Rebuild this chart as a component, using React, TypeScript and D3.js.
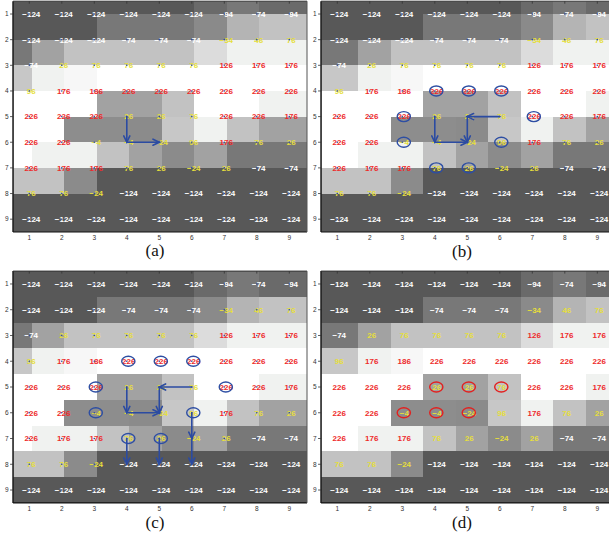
import React from "react";
import * as d3 from "d3";

const rowIds = [1, 2, 3, 4, 5, 6, 7, 8, 9];
const colIds = [1, 2, 3, 4, 5, 6, 7, 8, 9];
const tickLabels = ["1", "2", "3", "4", "5", "6", "7", "8", "9"];

const gridValues: number[][] = [
  [-124, -124, -124, -124, -124, -124, -94, -74, -94],
  [-124, -124, -124, -74, -74, -74, -34, 46, 76],
  [-74, 26, 76, 76, 76, 76, 126, 176, 176],
  [96, 176, 186, 226, 226, 226, 226, 226, 226],
  [226, 226, 226, 26, 26, 76, 226, 226, 176],
  [226, 226, -4, -4, -24, 96, 176, 76, 26],
  [226, 176, 176, 76, 26, -24, 26, -74, -74],
  [76, 76, -24, -124, -124, -124, -124, -124, -124],
  [-124, -124, -124, -124, -124, -124, -124, -124, -124],
];

// arrows: [rowFrom, colFrom, rowTo, colTo]
const arrowsA = [
  [5, 4, 6, 4],
  [6, 4, 6, 5],
];
const arrowsB = [
  [5, 6, 5, 5],
  [5, 4, 6, 4],
  [5, 5, 6, 5],
  [6, 4, 6, 5],
];
const arrowsC = [
  [5, 6, 5, 5],
  [5, 4, 6, 4],
  [5, 5, 6, 5],
  [6, 4, 6, 5],
  [6, 6, 7, 6],
  [7, 6, 8, 6],
  [7, 4, 8, 4],
  [7, 5, 8, 5],
];
const arrowsD: number[][] = [];

// circled cells: [row, col]
const circlesBlue = [
  [4, 4], [4, 5], [4, 6], [5, 3], [5, 7], [6, 3], [6, 6], [7, 4], [7, 5],
];
const circlesRed = [
  [5, 4], [5, 5], [5, 6], [6, 3], [6, 4], [6, 5],
];

const grayDomain = [-124, -94, -74, -34, -24, -4, 26, 46, 76, 96, 126, 176, 186, 226];
const grayLevels = [88, 106, 120, 138, 139, 141, 162, 180, 194, 199, 220, 241, 247, 255];

const grayScale = d3.scaleLinear<number>().domain(grayDomain).range(grayLevels).clamp(true);
const cellColor = (v: number) => {
  const g = Math.round(grayScale(v));
  return v === 176 ? `rgb(${g - 1},${g + 1},${g - 1})` : `rgb(${g},${g},${g})`;
};
const textColor = (v: number) => (v <= -74 ? "#ffffff" : v >= 126 ? "#ee2b2b" : "#e6df3c");
const fmt = (v: number) => (v < 0 ? "\u2212" + Math.abs(v) : String(v));

type PanelCfg = {
  id: string;
  left: number;
  top: number;
  bottom: number;
  right: number;
  dx: number;
  dy: number;
  label: string;
  labelX: number;
  labelY: number;
  arrows: number[][];
  circles: number[][];
  circleColor: string;
  dots: boolean;
  rightLine: boolean;
};

const panels: PanelCfg[] = [
  { id: "a", left: 13.05, top: 1.2, bottom: 232, right: 307, dx: -0.42, dy: -0.5, label: "(a)", labelX: 155, labelY: 256, arrows: arrowsA, circles: [], circleColor: "#2d4ea3", dots: true, rightLine: true },
  { id: "b", left: 321.05, top: 1.2, bottom: 232, right: 620, dx: 0.15, dy: -0.5, label: "(b)", labelX: 462, labelY: 257, arrows: arrowsB, circles: circlesBlue, circleColor: "#2d4ea3", dots: true, rightLine: false },
  { id: "c", left: 13.05, top: 271.1, bottom: 502.9, right: 307, dx: -0.42, dy: 0, label: "(c)", labelX: 155, labelY: 528, arrows: arrowsC, circles: circlesBlue, circleColor: "#2d4ea3", dots: true, rightLine: true },
  { id: "d", left: 321.05, top: 271.1, bottom: 502.9, right: 620, dx: 0.15, dy: 0, label: "(d)", labelX: 462, labelY: 528, arrows: arrowsD, circles: circlesRed, circleColor: "#e3201f", dots: false, rightLine: false },
];

const COL_STEP = 32.5;

function Panel({ cfg }: { cfg: PanelCfg }) {
  const xs = d3.scaleLinear().domain([0.5, 9.5]).range([cfg.left, cfg.left + 9 * COL_STEP]);
  const ys = d3.scaleLinear().domain([0.5, 9.5]).range([cfg.top, cfg.bottom]);
  const clipId = `clip-${cfg.id}`;
  const blue = "#2b4ba2";

  const cells: React.ReactNode[] = [];
  rowIds.forEach((r, ri) => {
    colIds.forEach((c, ci) => {
      let x0 = Math.round(xs(c + cfg.dx - 0.5));
      let x1 = Math.round(xs(c + cfg.dx + 0.5));
      let y0 = Math.round(ys(r + cfg.dy - 0.5));
      let y1 = Math.round(ys(r + cfg.dy + 0.5));
      if (ci === 0) x0 = Math.min(x0, Math.floor(cfg.left));
      if (ci === colIds.length - 1) x1 = Math.max(x1, Math.ceil(cfg.right + 5));
      if (ri === 0) y0 = Math.min(y0, Math.floor(cfg.top));
      if (ri === rowIds.length - 1) y1 = Math.max(y1, Math.ceil(cfg.bottom));
      cells.push(
        <rect key={`c${r}-${c}`} x={x0} y={y0} width={x1 - x0} height={y1 - y0} fill={cellColor(gridValues[ri][ci])} shapeRendering="crispEdges" />
      );
    });
  });

  const arrowEls = cfg.arrows.map(([r1, c1, r2, c2], i) => {
    const x1 = xs(c1), y1 = ys(r1), x2 = xs(c2), y2 = ys(r2);
    const ang = Math.atan2(y2 - y1, x2 - x1);
    const L = 7, a = 0.45;
    const hx1 = x2 - L * Math.cos(ang - a), hy1 = y2 - L * Math.sin(ang - a);
    const hx2 = x2 - L * Math.cos(ang + a), hy2 = y2 - L * Math.sin(ang + a);
    return (
      <g key={`a${i}`} stroke={blue} strokeWidth={1.6} fill="none" strokeLinecap="round">
        <line x1={x1} y1={y1} x2={x2} y2={y2} />
        <polyline points={`${hx1},${hy1} ${x2},${y2} ${hx2},${hy2}`} />
      </g>
    );
  });

  return (
    <g>
      <defs>
        <clipPath id={clipId}>
          <rect x={cfg.left} y={cfg.top} width={cfg.right - cfg.left} height={cfg.bottom - cfg.top} />
        </clipPath>
      </defs>
      <g clipPath={`url(#${clipId})`}>
        {cells}
        {rowIds.map((r, ri) =>
          colIds.map((c, ci) => {
            const v = gridValues[ri][ci];
            return (
              <text key={`t${r}-${c}`} x={xs(c) + 2} y={ys(r)} dy="0.36em" textAnchor="middle"
                fontFamily="'Liberation Sans', Arial, sans-serif" fontWeight="bold" fontSize={8} fill={textColor(v)}>
                {fmt(v)}
              </text>
            );
          })
        )}
        {cfg.dots &&
          rowIds.map((r) => colIds.map((c) => <circle key={`d${r}-${c}`} cx={xs(c)} cy={ys(r)} r={0.8} fill={blue} />))}
        {cfg.circles.map(([r, c], i) => (
          <ellipse key={`e${i}`} cx={xs(c) + 1.5} cy={ys(r)} rx={6.6} ry={5} fill="none" stroke={cfg.circleColor} strokeWidth={1.4} />
        ))}
        {arrowEls}
      </g>
      {/* axes */}
      <line x1={cfg.left} x2={cfg.left} y1={cfg.top} y2={cfg.bottom} stroke="#222" strokeWidth={1.6} />
      <line x1={cfg.left} x2={cfg.right} y1={cfg.bottom} y2={cfg.bottom} stroke="#111" strokeWidth={1.2} />
      <line x1={cfg.left} x2={cfg.right} y1={cfg.top} y2={cfg.top} stroke="#333" strokeWidth={1} />
      {cfg.rightLine && <line x1={cfg.right} x2={cfg.right} y1={cfg.top} y2={cfg.bottom} stroke="#555" strokeWidth={1} />}
      {rowIds.map((r, i) => (
        <g key={`yt${r}`}>
          <line x1={cfg.left - 3} x2={cfg.left} y1={ys(r)} y2={ys(r)} stroke="#333" strokeWidth={0.8} />
          <text x={cfg.left - 4.5} y={ys(r)} dy="0.35em" textAnchor="end" fontFamily="'Liberation Sans', Arial, sans-serif" fontSize={6.5} fill="#333">
            {tickLabels[i]}
          </text>
        </g>
      ))}
      {colIds.map((c, i) => (
        <g key={`xt${c}`}>
          <line x1={xs(c)} x2={xs(c)} y1={cfg.top} y2={cfg.top + 2.5} stroke="#333" strokeWidth={0.8} />
          <text x={xs(c)} y={cfg.bottom + 6} dy="0.35em" textAnchor="middle" fontFamily="'Liberation Sans', Arial, sans-serif" fontSize={6.5} fill="#333">
            {tickLabels[i]}
          </text>
        </g>
      ))}
      <text x={cfg.labelX} y={cfg.labelY} textAnchor="middle" fontFamily="'Liberation Serif', 'Times New Roman', serif" fontSize={17} fill="#111">
        {cfg.label}
      </text>
    </g>
  );
}

export default function App() {
  return (
    <svg width={609} height={538} viewBox="0 0 609 538" style={{ position: "absolute", left: 0, top: 0, background: "#fff" }}>
      <rect x={0} y={0} width={609} height={538} fill="#fff" />
      {panels.map((p) => (
        <Panel key={p.id} cfg={p} />
      ))}
    </svg>
  );
}
